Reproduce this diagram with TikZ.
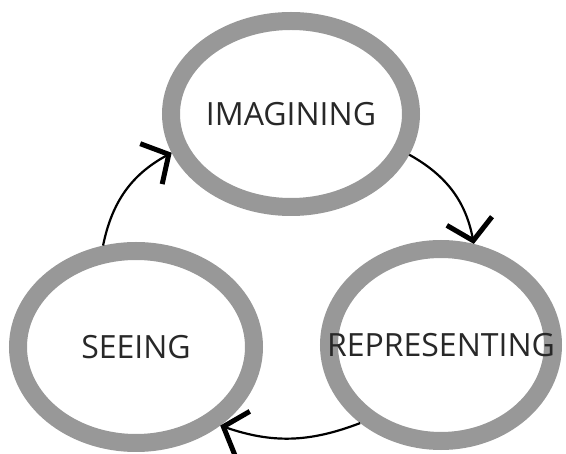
\documentclass[tikz,border=0pt]{standalone}
\usepackage{fontspec}
\setmainfont{Open Sans}
\usetikzlibrary{shapes.geometric,arrows.meta}
\definecolor{ringgray}{RGB}{152,152,152}
\definecolor{labelink}{RGB}{40,40,40}
\tikzset{
  ring/.style={ellipse, draw=ringgray, line width=18pt, inner sep=0pt},
  caption/.style={text=labelink, font=\fontsize{32}{38}\selectfont, inner sep=0pt},
  cycle/.style={line width=2.2pt, draw=black,
    -{Straight Barb[length=20pt,width=46pt,line width=5pt,line join=miter]}, bend left=25}
}
\begin{document}
\begin{tikzpicture}[x=1pt,y=-1pt]
  \useasboundingbox (0,0) rectangle (566,454);
  % the three stages of the cycle
  \node[ring, minimum width=240pt, minimum height=186pt] (imag) at (291,114) {};
  \node[ring, minimum width=236pt, minimum height=192pt] (seeing) at (136,347) {};
  \node[ring, minimum width=224pt, minimum height=192pt] (repr) at (441,345) {};
  \node[caption] (timag) at (imag.center) {IMAGINING};
  \node[caption] (tseeing) at (seeing.center) {SEEING};
  \node[caption] (trepr) at (repr.center) {REPRESENTING};
  % arrows around the cycle
  \draw[cycle] (seeing.108) to (imag.198);
  \draw[cycle] (imag.341) to (repr.72);
  \draw[cycle, bend left=20] (repr.224) to (seeing.317);
\end{tikzpicture}
\end{document}
